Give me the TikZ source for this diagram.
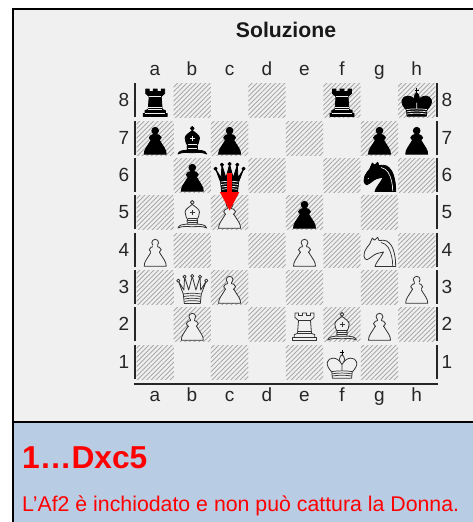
\documentclass[tikz,border=0pt]{standalone}
\usepackage{fontspec}
\setmainfont{Liberation Sans}
\usetikzlibrary{patterns.meta,arrows.meta}
\definecolor{panelgray}{HTML}{F0F0F0}
\definecolor{panelblue}{HTML}{B8CCE4}
\definecolor{hatchgray}{HTML}{A8A8A8}
\tikzset{
  plainsq/.style={rectangle,minimum width=37.3pt,minimum height=34pt,inner sep=0pt,outer sep=0pt},
  hatchsq/.style={plainsq,pattern={Lines[angle=45,distance=3.3pt,line width=.85pt]},pattern color=hatchgray},
  coord/.style={font=\fontsize{19}{19}\selectfont,text=black!85,inner sep=0pt},
  edge/.style={line width=2pt,black!85},
  frame/.style={line width=2.2pt,black},
  move/.style={draw=red,line width=5.6pt,-{Triangle[width=18pt,length=19pt]}},
  % piece colour schemes
  body/.style={fill=panelgray,draw=black!80,line width=.8pt,line join=round},
  bodyfill/.style={fill=panelgray},
  detail/.style={draw=black!80,line width=.7pt},
  whitep/.style={y=1pt},
  blackp/.style={y=1pt,
    body/.style={fill=black,draw=black,line width=.8pt,line join=round},
    bodyfill/.style={fill=black},
    detail/.style={draw=panelgray,line width=.7pt}},
  % pieces, origin at the middle of the square's lower edge, y upwards
  pawn/.pic={
    \path[body] (0,24.3) circle[radius=3.4];
    \path[body] (0,17.3) ellipse[x radius=6,y radius=3.3];
    \path[body] (-11,.8) .. controls (-11,5.5) and (-8.5,7.5) .. (-4.4,14.5) -- (4.4,14.5) .. controls (8.5,7.5) and (11,5.5) .. (11,.8) -- cycle;
    \path[bodyfill] (-3.8,13.5) rectangle (3.8,18.5);
    \path[bodyfill] (-1.8,19) rectangle (1.8,21.6);
  },
  rook/.pic={
    \path[body] (-12,.5) -- (12,.5) -- (12,3.6) -- (10.2,3.6) -- (10.2,6.4) -- (7,7.6) -- (6,20.5) -- (9.5,23.5) -- (9.5,28) -- (6,28) -- (6,25.5) -- (2,25.5) -- (2,28) -- (-2,28) -- (-2,25.5) -- (-6,25.5) -- (-6,28) -- (-9.5,28) -- (-9.5,23.5) -- (-6,20.5) -- (-7,7.6) -- (-10.2,6.4) -- (-10.2,3.6) -- (-12,3.6) -- cycle;
    \path[detail] (-6,20.5) -- (6,20.5) (-6.8,9.8) -- (6.8,9.8) (-7,7.4) -- (7,7.4) (-10.2,3.6) -- (10.2,3.6);
  },
  bishop/.pic={
    \path[body] (0,26.6) circle[radius=1.9];
    \path[body] (-14.4,1) .. controls (-13,4.8) and (-9,4.2) .. (-5,5) -- (5,5) .. controls (9,4.2) and (13,4.8) .. (14.4,1) .. controls (10,3) and (6,2.6) .. (0,2.2) .. controls (-6,2.6) and (-10,3) .. (-14.4,1) -- cycle;
    \path[body] (-5,4.8) -- (5,4.8) -- (5.2,8.6) -- (-5.2,8.6) -- cycle;
    \path[body] (-4.4,8.6) .. controls (-5.5,11) and (-7.4,14) .. (-7.2,17) .. controls (-7,20) and (-3,22) .. (0,24.6) .. controls (3,22) and (7,20) .. (7.2,17) .. controls (7.4,14) and (5.5,11) .. (4.4,8.6) -- cycle;
    \path[detail] (-2.5,16.8) -- (2.5,16.8) (0,14.3) -- (0,19.3) (-4.8,6.7) -- (4.8,6.7) (-4.8,10.4) -- (4.8,10.4);
  },
  queen/.pic={
    \path[body] (-8,.5) -- (8,.5) -- (9,10) -- (14,23) -- (8.4,14) -- (7.7,27) -- (3.6,14) -- (0,27.6) -- (-3.6,14) -- (-7.7,27) -- (-8.4,14) -- (-14,23) -- (-9,10) -- cycle;
    \foreach \px/\py in {-14/23.3,-7.7/27.3,0/28,7.7/27.3,14/23.3}{
      \path[body] (\px,\py) circle[radius=1.6];
    }
    \path[detail] (-7.8,2.6) .. controls (-3,3.6) and (3,3.6) .. (7.8,2.6)
      (-8,5) .. controls (-3,6) and (3,6) .. (8,5)
      (-8.4,7.5) .. controls (-3,8.5) and (3,8.5) .. (8.4,7.5)
      (-8.8,10) .. controls (-3,11) and (3,11) .. (8.8,10);
  },
  king/.pic={
    \path[detail,draw=black,line width=1pt] (0,23) -- (0,29.4) (-2.2,27) -- (2.2,27);
    \path[body] (-2.6,19.8) .. controls (-2.6,22) and (-1,23.4) .. (0,24.2) .. controls (1,23.4) and (2.6,22) .. (2.6,19.8) -- (1,14) -- (-1,14) -- cycle;
    \path[body] (-9.6,.8) -- (9.6,.8) -- (10.2,7) .. controls (13,10) and (15.6,13.5) .. (14.6,17) .. controls (13.4,21.8) and (5,23.4) .. (0,14.5) .. controls (-5,23.4) and (-13.4,21.8) .. (-14.6,17) .. controls (-15.6,13.5) and (-13,10) .. (-10.2,7) -- cycle;
    \path[detail] (-9.6,3) .. controls (-4,4) and (4,4) .. (9.6,3)
      (-9.8,5.2) .. controls (-4,6.2) and (4,6.2) .. (9.8,5.2)
      (-10.2,7.4) .. controls (-4,8.4) and (4,8.4) .. (10.2,7.4)
      (0,8) -- (0,14.5);
  },
  knight/.pic={
    \path[body] (-4.5,.5) .. controls (-4,4) and (1,9) .. (4,15) .. controls (0,14) and (-3.5,13.5) .. (-5.5,12) .. controls (-7.5,10.5) and (-9,9) .. (-12.8,7.2) .. controls (-14,7.5) and (-15.2,9) .. (-15.5,10.7) .. controls (-15.5,13) and (-15,15) .. (-14.5,16.3) .. controls (-13,19) and (-11.5,21) .. (-9.8,23) -- (-7.2,29) -- (-5,26.8) -- (-1.8,29.7) -- (-.5,26.5) .. controls (3,27) and (5,26.8) .. (7.2,26) .. controls (10.5,24) and (12.5,21) .. (13.8,17.3) .. controls (15.5,12) and (16.2,7) .. (16.2,.5) -- cycle;
    \path[detail] (13.2,.8) .. controls (13.3,8) and (11.5,15) .. (8.5,20) .. controls (6.8,22.5) and (4,24) .. (1.5,24.5);
    \path[detail,draw=panelgray] (-11.8,13) -- (-10.6,13.8);
  },
}
\newcommand{\wpiece}[3]{\pic[whitep] (#2) at (#3.south) {#1};}
\newcommand{\bpiece}[3]{\pic[blackp] (#2) at (#3.south) {#1};}
\begin{document}
\begin{tikzpicture}[x=1pt,y=-1pt]
\useasboundingbox (0,0) rectangle (473,522);
\fill[white] (0,0) rectangle (473,522);
\fill[panelgray] (13,9) rectangle (473,422);
\fill[panelblue] (13,422) rectangle (473,522);
\draw[frame] (13,522) -- (13,9) -- (473,9);
\draw[frame] (13,422) -- (473,422);
\node[font=\bfseries\fontsize{21.2}{21}\selectfont,text=black!90,inner sep=0pt] (title) at (286,30) {Soluzione};
% squares
\foreach \r/\yc in {8/100,7/138,6/175,5/212,4/250,3/287,2/324,1/362}{
  \foreach \f/\xc [count=\i] in {a/155.2,b/192.3,c/229.6,d/267,e/304.5,f/342,g/379.5,h/416.7}{
    \pgfmathtruncatemacro{\sqpar}{mod(\i+\r,2)}
    \ifnum\sqpar=0
      \node[hatchsq] (\f\r) at (\xc,\yc) {};
    \else
      \node[plainsq] (\f\r) at (\xc,\yc) {};
    \fi
  }
  \draw[edge] (a\r.south west) ++(-1.7,0) -- ++(0,-34);
  \draw[edge] (h\r.south east) ++(1.7,0) -- ++(0,-34);
  \node[coord] (left\r) at (124,\yc) {\r};
  \node[coord] (right\r) at (447,\yc) {\r};
}
\foreach \f/\xc in {a/155,b/192,c/229.6,d/267,e/304.5,f/342,g/379.5,h/416.7}{
  \node[coord,anchor=base] (top\f) at (\xc,75.5) {\f};
  \node[coord,anchor=base] (bot\f) at (\xc,401.5) {\f};
}
\draw[edge] (a1.south west) ++(-2.7,4.7) coordinate (bl) -- (bl -| h1.south east) -- ++(2.7,0);
% black pieces
\bpiece{rook}{ra8}{a8}
\bpiece{rook}{rf8}{f8}
\bpiece{king}{kh8}{h8}
\bpiece{pawn}{pa7}{a7}
\bpiece{bishop}{bb7}{b7}
\bpiece{pawn}{pc7}{c7}
\bpiece{pawn}{pg7}{g7}
\bpiece{pawn}{ph7}{h7}
\bpiece{pawn}{pb6}{b6}
\bpiece{queen}{qc6}{c6}
\bpiece{knight}{ng6}{g6}
\bpiece{pawn}{pe5}{e5}
% white pieces
\wpiece{bishop}{Bb5}{b5}
\wpiece{pawn}{Pc5}{c5}
\wpiece{pawn}{Pa4}{a4}
\wpiece{pawn}{Pe4}{e4}
\wpiece{knight}{Ng4}{g4}
\wpiece{queen}{Qb3}{b3}
\wpiece{pawn}{Pc3}{c3}
\wpiece{pawn}{Ph3}{h3}
\wpiece{pawn}{Pb2}{b2}
\wpiece{rook}{Re2}{e2}
\wpiece{bishop}{Bf2}{f2}
\wpiece{pawn}{Pg2}{g2}
\wpiece{king}{Kf1}{f1}
% move arrow
\draw[move] ([yshift=2pt]c6.center) -- ([yshift=1pt]c5.center);
% caption
\node[font=\bfseries\fontsize{31.7}{32}\selectfont,text=red,inner sep=0pt,anchor=base west] (head) at (22,468) {1…Dxc5};
\node[font=\fontsize{21.3}{21}\selectfont,text=red,inner sep=0pt,anchor=base west] (body) at (22,511) {L’Af2 è inchiodato e non può cattura la Donna.};
\end{tikzpicture}
\end{document}
